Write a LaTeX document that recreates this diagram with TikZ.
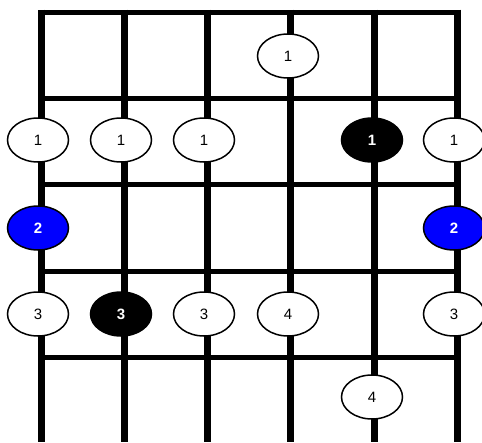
\documentclass[tikz,border=0pt]{standalone}
\usepackage{fontspec}
\setmainfont{Liberation Sans}
\usepackage{tikz}
\usetikzlibrary{shapes.geometric}

\begin{document}
\begin{tikzpicture}[x=1pt, y=1pt,
fret/.style={black, line width=5pt},
gstring/.style={black, line width=7pt},
finger/.style={ellipse, draw=black, fill=white, line width=1.5pt, minimum width=61pt, minimum height=44pt, inner sep=0pt, font=\fontsize{15}{17}\selectfont},
rootfinger/.style={finger, fill=black, text=white, font=\fontsize{15}{17}\selectfont\bfseries},
bluefinger/.style={finger, fill=blue, text=white, font=\fontsize{15}{17}\selectfont\bfseries},
]
\useasboundingbox (0,0) rectangle (482,-442);

% frets
\draw[fret] (41,  -12) -- (457,  -12);
\draw[fret] (41,  -98.5) -- (457,  -98.5);
\draw[fret] (41, -184) -- (457, -184);
\draw[fret] (41, -271) -- (457, -271);
\draw[fret] (41, -357) -- (457, -357);

% strings
\draw[gstring] (41,  -9.5) -- (41,  -442);
\draw[gstring] (124, -9.5) -- (124, -442);
\draw[gstring] (207, -9.5) -- (207, -442);
\draw[gstring] (290, -9.5) -- (290, -442);
\draw[gstring] (374, -9.5) -- (374, -442);
\draw[gstring] (457, -9.5) -- (457, -442);

% fret 1
\node[finger] (n14) at (288, -56) {1};

% fret 2
\node[finger] (n21) at (38,  -140) {1};
\node[finger] (n22) at (121, -140) {1};
\node[finger] (n23) at (204, -140) {1};
\node[rootfinger] (n25) at (372, -140) {1};
\node[finger] (n26) at (454, -140) {1};

% fret 3
\node[bluefinger] (n31) at (38,  -228) {2};
\node[bluefinger] (n36) at (454, -228) {2};

% fret 4
\node[finger] (n41) at (38,  -314) {3};
\node[rootfinger] (n42) at (121, -314) {3};
\node[finger] (n43) at (204, -314) {3};
\node[finger] (n44) at (288, -314) {4};
\node[finger] (n46) at (454, -314) {3};

% fret 5
\node[finger] (n55) at (372, -397) {4};
\end{tikzpicture}
\end{document}
